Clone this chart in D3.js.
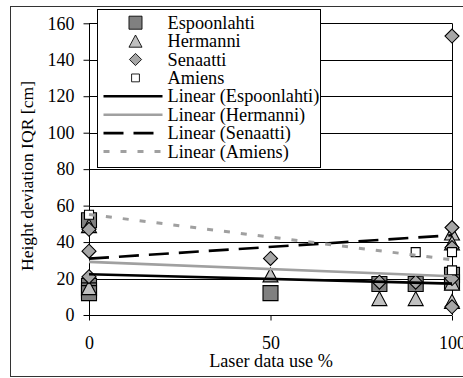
<!DOCTYPE html>
<html>
<head>
<meta charset="utf-8">
<script src="https://cdn.jsdelivr.net/npm/d3@7/dist/d3.min.js"></script>
<style>
  html, body { margin: 0; padding: 0; background: #fff; }
</style>
</head>
<body>
<svg id="chart" width="463" height="378"></svg>
<script>
// Laser data use (%) and height deviation IQR (cm), one pair of arrays per site
const espoonlahtiX = [0, 0, 0, 0, 50, 80, 90, 100, 100];
const espoonlahtiY = [52, 16, 13.5, 12, 12, 17, 17, 22, 18];
const hermanniX = [0, 0, 50, 80, 90, 100, 100, 100, 100];
const hermanniY = [49, 15, 22, 9, 9, 45, 39.5, 17.5, 7.5];
const senaattiX = [0, 0, 0, 50, 80, 90, 100, 100, 100, 100, 100];
const senaattiY = [47, 35, 21, 31, 18, 18, 153, 48, 37, 20, 4.5];
const amiensX = [0, 90, 100, 100];
const amiensY = [55, 34.5, 34.5, 24.5];

const seriesNames = ["Espoonlahti", "Hermanni", "Senaatti", "Amiens"];
const yTicks = [0, 20, 40, 60, 80, 100, 120, 140, 160];
const xTicks = [0, 50, 100];

const FONT = "'Liberation Serif', 'Times New Roman', 'DejaVu Serif', serif";

const series = [
  { name: seriesNames[0], xs: espoonlahtiX, ys: espoonlahtiY, shape: "square", fill: "#808080",
    line: { stroke: "#000", width: 2.6, dash: null } },
  { name: seriesNames[1], xs: hermanniX, ys: hermanniY, shape: "triangle", fill: "#c0c0c0",
    line: { stroke: "#a0a0a0", width: 2.6, dash: null } },
  { name: seriesNames[2], xs: senaattiX, ys: senaattiY, shape: "diamond", fill: "#a6a6a6",
    line: { stroke: "#000", width: 2.6, dash: "20,10" } },
  { name: seriesNames[3], xs: amiensX, ys: amiensY, shape: "small", fill: "#fff",
    line: { stroke: "#a0a0a0", width: 3, dash: "6,11" } }
];

const svg = d3.select("#chart");
const x = d3.scaleLinear().domain([0, 100]).range([89, 452]);
const y = d3.scaleLinear().domain([0, 160]).range([315, 23.3]);

function styleText(sel, size) {
  return sel.style("font-family", FONT).style("font-size", (size || 18) + "px").style("fill", "#000");
}

// outer chart frame
svg.append("rect").attr("x", 10.5).attr("y", 6.5).attr("width", 480).attr("height", 370)
  .attr("fill", "none").attr("stroke", "#333").attr("stroke-width", 1);

// horizontal gridlines and right plot edge
svg.append("g").selectAll("line").data(yTicks.filter(d => d > 0)).join("line")
  .attr("x1", x(0)).attr("x2", x(100))
  .attr("y1", d => Math.round(y(d)) + 0.5).attr("y2", d => Math.round(y(d)) + 0.5)
  .attr("stroke", "#000").attr("stroke-width", 1);
svg.append("line").attr("x1", x(100) + 0.5).attr("x2", x(100) + 0.5)
  .attr("y1", y(160)).attr("y2", y(0)).attr("stroke", "#000");

// y axis
const yAxis = svg.append("g").attr("transform", `translate(${x(0) + 0.5},0)`)
  .call(d3.axisLeft(y).tickValues(yTicks).tickSize(6).tickPadding(9).tickFormat(d3.format("d")));
yAxis.select(".domain").attr("d", `M0,${y(160)}V${y(0) + 5}`);
yAxis.selectAll("text").call(styleText, 18);

// x axis crossing at zero
const xAxis = svg.append("g").attr("transform", `translate(0,${Math.round(y(0)) + 0.5})`)
  .call(d3.axisBottom(x).tickValues(xTicks).tickSize(5).tickPadding(16).tickFormat(d3.format("d")));
xAxis.select(".domain").attr("d", `M${x(0)},0H${x(100)}`).attr("stroke-width", 1.2);
xAxis.selectAll("text").call(styleText, 18);

svg.append("text").attr("x", 271).attr("y", 366.5).attr("text-anchor", "middle")
  .call(styleText, 18.2).text("Laser data use %");
svg.append("text").attr("transform", "translate(33,176) rotate(-90)").attr("text-anchor", "middle")
  .call(styleText, 17.6).text("Height deviation IQR [cm]");

// marker shapes, centred on their bounding box
function markerPath(shape) {
  switch (shape) {
    case "square": return "M-7.5,-7.5H7.5V7.5H-7.5Z";
    case "triangle": return "M0,-7L7.5,7H-7.5Z";
    case "diamond": return "M0,-7L7,0L0,7L-7,0Z";
    default: return "M-4.5,-4.5H4.5V4.5H-4.5Z";
  }
}

// least-squares trend line per site
function linearFit(xs, ys) {
  const mx = d3.mean(xs), my = d3.mean(ys);
  const sxy = d3.sum(xs, (v, i) => (v - mx) * (ys[i] - my));
  const sxx = d3.sum(xs, v => (v - mx) * (v - mx));
  const slope = sxy / sxx;
  return v => my + slope * (v - mx);
}

const markerLayer = svg.append("g");
series.forEach(s => {
  markerLayer.append("g").selectAll("path").data(s.xs.map((v, i) => [v, s.ys[i]])).join("path")
    .attr("d", markerPath(s.shape))
    .attr("transform", d => `translate(${x(d[0])},${y(d[1])})`)
    .attr("fill", s.fill).attr("stroke", "#000").attr("stroke-width", 1.1);
});

const line = d3.line().x(d => x(d[0])).y(d => y(d[1]));
const trendLayer = svg.append("g");
series.forEach(s => {
  const f = linearFit(s.xs, s.ys);
  trendLayer.append("path").datum([[0, f(0)], [100, f(100)]])
    .attr("d", line).attr("fill", "none")
    .attr("stroke", s.line.stroke).attr("stroke-width", s.line.width)
    .attr("stroke-dasharray", s.line.dash);
});

// legend
const legend = svg.append("g").attr("transform", "translate(97.5,9.5)");
legend.append("rect").attr("width", 223).attr("height", 158)
  .attr("fill", "#fff").attr("stroke", "#000").attr("stroke-width", 1);
const rowY = i => 13.2 + i * 18.4;
series.forEach((s, i) => {
  legend.append("path").attr("d", markerPath(s.shape))
    .attr("transform", `translate(38,${rowY(i)}) scale(0.87)`)
    .attr("fill", s.fill).attr("stroke", "#000");
  legend.append("text").attr("x", 70).attr("y", rowY(i) + 6)
    .call(styleText, 18.3).text(s.name);
});
series.forEach((s, j) => {
  const i = j + 4;
  legend.append("line").attr("x1", 6).attr("x2", 65)
    .attr("y1", rowY(i)).attr("y2", rowY(i))
    .attr("stroke", s.line.stroke).attr("stroke-width", s.line.width)
    .attr("stroke-dasharray", s.line.dash);
  legend.append("text").attr("x", 70).attr("y", rowY(i) + 6)
    .call(styleText, 18.3).text(`Linear (${s.name})`);
});
</script>
</body>
</html>
